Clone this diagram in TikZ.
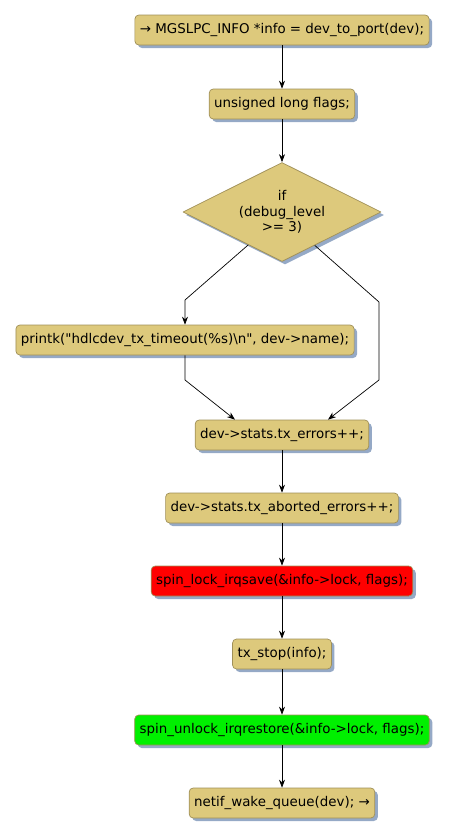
\documentclass[tikz,border=0pt]{standalone}
\usepackage{fontspec}
\setmainfont{DejaVu Sans}
\usetikzlibrary{shapes.geometric,shadows,arrows.meta,calc}
\begin{document}
\begin{tikzpicture}[x=1pt,y=-1pt, font=\fontsize{13.4}{15.5}\selectfont, line join=round]
  \definecolor{Sand}{HTML}{DDC97C}
  \definecolor{SandEdge}{HTML}{A09058}
  \definecolor{Shade}{HTML}{95A9C6}
  \definecolor{LockRed}{HTML}{FF0000}
  \definecolor{LockGreen}{HTML}{00F000}

  \tikzset{
    stmt/.style={rounded corners=4pt, draw=SandEdge, fill=Sand, line width=0.7pt,
      minimum height=30, inner xsep=5, inner ysep=0,
      drop shadow={shadow xshift=3pt, shadow yshift=-3pt, fill=Shade, opacity=1}},
    cond/.style={diamond, shape aspect=2, draw=SandEdge, fill=Sand, line width=0.7pt,
      minimum width=198, minimum height=99, inner sep=0, align=center,
      drop shadow={shadow xshift=3pt, shadow yshift=-3pt, fill=Shade, opacity=1}},
    flow/.style={-{Stealth[length=8pt,width=6pt]}, line width=0.7pt}
  }

  \useasboundingbox (0,0) rectangle (451,838);

  % Statements
  \node[stmt] (info)   at (282,30)  {→ MGSLPC\_INFO *info = dev\_to\_port(dev);};
  \node[stmt] (flags)  at (282,104) {unsigned long flags;};
  \node[cond] (dbg)    at (282,212) {if\\(debug\_level\\>= 3)};
  \node[stmt] (print)  at (185,340) {printk(\textquotedbl hdlcdev\_tx\_timeout(\%s)\textbackslash n\textquotedbl, dev->name);};
  \node[stmt] (err)    at (282,435) {dev->stats.tx\_errors++;};
  \node[stmt] (abort)  at (282,508) {dev->stats.tx\_aborted\_errors++;};
  \node[stmt, fill=LockRed]   (lock)   at (282,581) {spin\_lock\_irqsave(\&info->lock, flags);};
  \node[stmt] (stop)   at (282,654) {tx\_stop(info);};
  \node[stmt, fill=LockGreen] (unlock) at (282,730) {spin\_unlock\_irqrestore(\&info->lock, flags);};
  \node[stmt] (wake)   at (282,803) {netif\_wake\_queue(dev); →};

  % Bends of the branches
  \coordinate (yesbend)  at (185,300);
  \coordinate (nobend)   at (379,302);
  \coordinate (nojoin)   at (379,380);
  \coordinate (yesjoin)  at (185,380);

  % Connectors
  \draw[flow] (info) -- (flags);
  \draw[flow] (flags) -- (dbg);
  \draw[flow] ($(dbg.south)!0.34!(dbg.west)$) -- (yesbend) -- (print.north);
  \draw[flow] ($(dbg.south)!0.33!(dbg.east)$) -- (nobend) -- (nojoin) -- ($(err.north)+(46,0)$);
  \draw[flow] (print.south) -- (yesjoin) -- ($(err.north)+(-47,0)$);
  \draw[flow] (err) -- (abort);
  \draw[flow] (abort) -- (lock);
  \draw[flow] (lock) -- (stop);
  \draw[flow] (stop) -- (unlock);
  \draw[flow] (unlock) -- (wake);
\end{tikzpicture}
\end{document}
